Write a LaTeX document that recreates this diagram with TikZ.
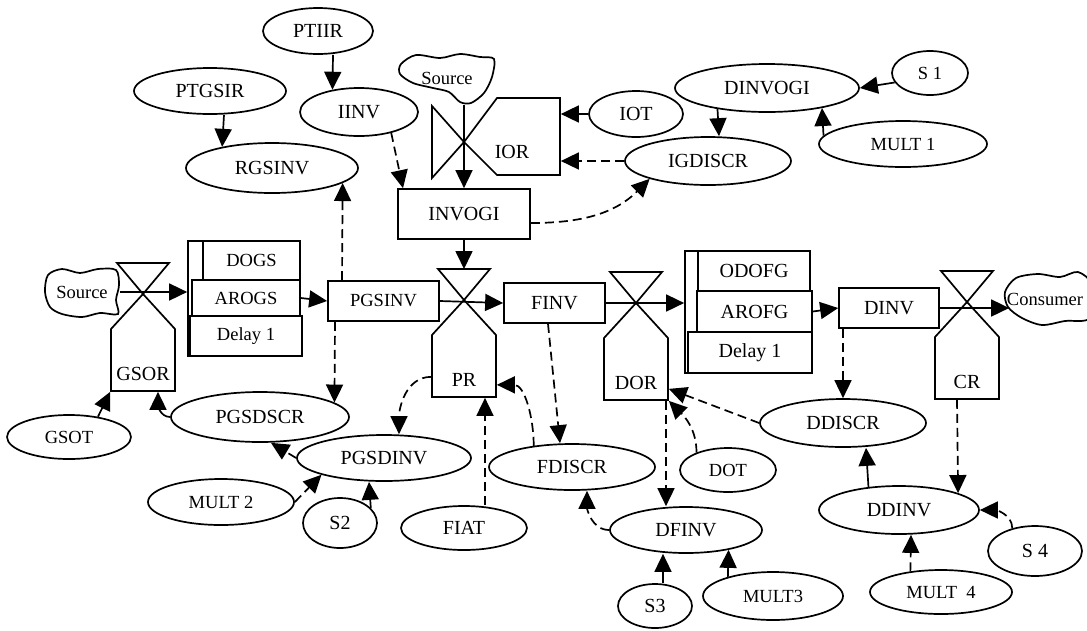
\documentclass[tikz,border=0pt]{standalone}
\usepackage{fontspec}
\setmainfont{Liberation Serif}
\usetikzlibrary{shapes.geometric,arrows.meta}
\tikzset{var/.style 2 args={ellipse,draw,inner sep=0pt,minimum width=#1pt,minimum height=#2pt}}
\tikzset{lvl/.style 2 args={rectangle,draw,fill=white,inner sep=0pt,minimum width=#1pt,minimum height=#2pt}}
\tikzset{blob/.style 2 args={inner sep=0pt,minimum width=#1pt,minimum height=#2pt}}
\tikzset{sm/.style={font=\fontsize{18.5}{22}\selectfont}}
\tikzset{link/.style={->}}
\tikzset{info/.style={->,dash pattern=on 9pt off 5pt}}
\tikzset{ratebox/.style={inner sep=0pt,minimum width=64pt,minimum height=62pt}}
\tikzset{valve/.pic={
  \draw (-26,31) -- (26,31) -- (0,0) -- cycle;
  \draw (0,0) -- (-32,-35) -- (-32,-97) -- (32,-97) -- (32,-35) -- cycle;
  \node[ratebox] (-box) at (0,-66) {};
  \node (-lbl) at (0,-80) {#1};
  \coordinate (-top) at (0,31);
}}

\begin{document}
\begin{tikzpicture}[x=1pt,y=1pt,line width=1.7pt,>={Triangle[length=18pt,width=17pt]},font=\fontsize{20}{24}\selectfont]
\useasboundingbox (0,0) rectangle (1087,-630);

% sources and sink
\node[blob={74}{48},sm] (src1) at (82,-292) {Source};
\draw plot[smooth cycle] coordinates {(48,-275) (62,-269) (80,-273) (98,-269) (116,-270) (119,-285) (116,-300) (118,-314) (100,-313) (82,-317) (62,-314) (50,-307) (45,-292)};
\node[blob={96}{52},sm] (src2) at (447,-78) {Source};
\draw plot[smooth cycle] coordinates {(401,-64) (416,-55) (440,-58) (460,-54) (480,-57) (494,-59) (492,-77) (484,-93) (471,-103) (460,-102) (449,-92) (433,-88) (413,-83) (400,-74)};
\node[blob={84}{53},sm] (cons) at (1045,-299.5) {Consumer};
\draw plot[smooth cycle] coordinates {(1005,-292) (1016,-278) (1038,-274) (1060,-277) (1078,-272) (1092,-285) (1090,-318) (1065,-321) (1042,-325) (1022,-318) (1008,-307)};

% valves
\pic (gsor) at (143,-294) {valve=GSOR};
\pic (pr) at (464,-300) {valve=PR};
\pic (dor) at (636,-303) {valve=DOR};
\pic (cr) at (967,-302) {valve=CR};
\draw (432,-106) -- (432,-178) -- (464,-142) -- cycle;
\draw (464,-142) -- (497,-98) -- (560,-98) -- (560,-175) -- (497,-175) -- cycle;
\node[ratebox,minimum width=63pt,minimum height=77pt] (ior) at (528.5,-136.5) {};
\node (iorlbl) at (512,-152) {IOR};

% levels
\node[lvl={132}{50}] (invogi) at (464,-214) {INVOGI};
\node[lvl={111}{40},sm] (pgsinv) at (383.5,-301) {PGSINV};
\node[lvl={101}{40}] (finv) at (554.5,-303) {FINV};
\node[lvl={100}{40}] (dinv) at (889,-308) {DINV};

% delay stacks
\node[lvl={112}{115}] (gsback) at (244,-298.5) {};
\node[lvl={97}{39},sm] (dogs) at (251.5,-260.5) {DOGS};
\node[lvl={108}{36},sm] (arogs) at (246,-298) {AROGS};
\node[lvl={112}{40},sm] (dlyone) at (246,-336) {Delay 1};
\node[lvl={125}{122}] (dback) at (747.5,-312) {};
\node[lvl={112}{40}] (odofg) at (754,-271) {ODOFG};
\node[lvl={115}{41}] (arofg) at (754.5,-311.5) {AROFG};
\node[lvl={124}{41}] (dlytwo) at (750,-352.5) {Delay 1};

% auxiliaries
\node[var={110}{46}] (ptiir) at (318,-31) {PTIIR};
\node[var={152}{46}] (ptgsir) at (210,-91) {PTGSIR};
\node[var={172}{50}] (rgsinv) at (272,-168) {RGSINV};
\node[var={118}{48}] (iinv) at (359,-112) {IINV};
\node[var={94}{46}] (iot) at (636,-114) {IOT};
\node[var={166}{48}] (igdiscr) at (708,-161) {IGDISCR};
\node[var={184}{48}] (dinvogi) at (767,-88) {DINVOGI};
\node[var={76}{44},sm] (sone) at (930,-73) {S 1};
\node[var={168}{46},sm] (multone) at (903,-144) {MULT 1};
\node[var={124}{44},sm] (gsot) at (69,-437) {GSOT};
\node[var={178}{50}] (pgsdscr) at (260,-417) {PGSDSCR};
\node[var={174}{46}] (pgsdinv) at (384,-458) {PGSDINV};
\node[var={146}{46},sm] (multtwo) at (221,-502) {MULT 2};
\node[var={74}{50}] (stwo) at (340,-523) {S2};
\node[var={126}{44}] (fiat) at (464,-528) {FIAT};
\node[var={166}{46}] (fdiscr) at (572,-467) {FDISCR};
\node[var={152}{46}] (dfinv) at (686,-530) {DFINV};
\node[var={74}{44}] (sthree) at (655,-606) {S3};
\node[var={140}{48},sm] (multthree) at (773,-596) {MULT3};
\node[var={96}{44},sm] (dot) at (728,-470) {DOT};
\node[var={166}{48}] (ddiscr) at (843,-423) {DDISCR};
\node[var={160}{48}] (ddinv) at (899,-510) {DDINV};
\node[var={94}{50}] (sfour) at (1035,-551) {S 4};
\node[var={142}{44},sm] (multfour) at (941,-592) {MULT\ \ 4};

% flows
\draw[link] (src1.east) -- (src1.east -| gsback.west);
\draw[link] (arogs.east) -- (pgsinv.west);
\draw[link] (pgsinv.east) -- (finv.west);
\draw[link] (finv.east) -- (finv.east -| dback.west);
\draw[link] (arofg.east) -- (dinv.west);
\draw[link] (dinv.east) -- ([xshift=7pt]dinv.east -| cons.west);
\draw[link] (invogi.north |- src2.south) -- (invogi.north);
\draw[link] (invogi.south) -- (pr-top);

% solid links
\draw[link] ([xshift=15pt]ptiir.south) -- (iinv.140);
\draw[link] ([xshift=14pt]ptgsir.south) -- (rgsinv.157);
\draw[link] (iot.west) -- (iot.west -| ior.east);
\draw[link] (dinvogi.203) -- ([xshift=11pt]igdiscr.north);
\draw[link] (sone.195) -- (dinvogi.east);
\draw[link] (multone.174) -- (dinvogi.-20);
\draw[link] (gsot.35) -- (gsor-box.south west);
\draw[link] (pgsdscr.west) to[out=180,in=-90] ([xshift=15pt]gsor-box.south);
\draw[link] (stwo.26) -- ([xshift=-15pt]pgsdinv.south);
\draw[link] ([xshift=8pt]sthree.north) -- ([xshift=-23pt]dfinv.south);
\draw[link] (multthree.157) -- (dfinv.-25);
\draw[link] (ddinv.143.5) -- ([xshift=23pt]ddiscr.south);

% information links
\draw[info] (iinv.-33) -- ([xshift=-61pt]invogi.north);
\draw[info] ([yshift=-9pt]invogi.east) to[out=0,in=225] (igdiscr.197);
\draw[info] (igdiscr.west) -- (igdiscr.west -| ior.east);
\draw[info] ([xshift=-41.5pt]pgsinv.north) -- (rgsinv.-12);
\draw[info] ([xshift=-48.5pt]pgsinv.south) -- (pgsdscr.11);
\draw[info] ([yshift=21pt]pr-box.south west) to[out=180,in=90] ([xshift=15pt]pgsdinv.north);
\draw[info] (fdiscr.151) to[out=90,in=0] ([yshift=13pt]pr-box.south east);
\draw[info] ([xshift=21pt]fiat.north) -- ([xshift=21pt]pr-box.south);
\draw[info] ([xshift=-6.5pt]finv.south) -- ([xshift=-12pt]fdiscr.north);
\draw[info] (pgsdinv.west) -- ([xshift=11pt]pgsdscr.south);
\draw[info] (multtwo.east) -- (pgsdinv.195);
\draw[info] (dfinv.west) to[out=180,in=-90] ([xshift=15pt]fdiscr.south);
\draw[info] ([xshift=30pt]dor-box.south) -- ([xshift=-20pt]dfinv.north);
\draw[info] (dot.151) to[out=90,in=-45] (dor-box.south east);
\draw[info] (ddiscr.west) -- ([yshift=12pt]dor-box.south east);
\draw[info] ([xshift=-46pt]dinv.south) -- (ddiscr.north);
\draw[info] ([xshift=-10pt]cr-box.south) -- (ddinv.16);
\draw[info] (multfour.146) -- ([xshift=12pt]ddinv.south);
\draw[info] (sfour.135) to[out=90,in=0] (ddinv.east);

\end{tikzpicture}
\end{document}
